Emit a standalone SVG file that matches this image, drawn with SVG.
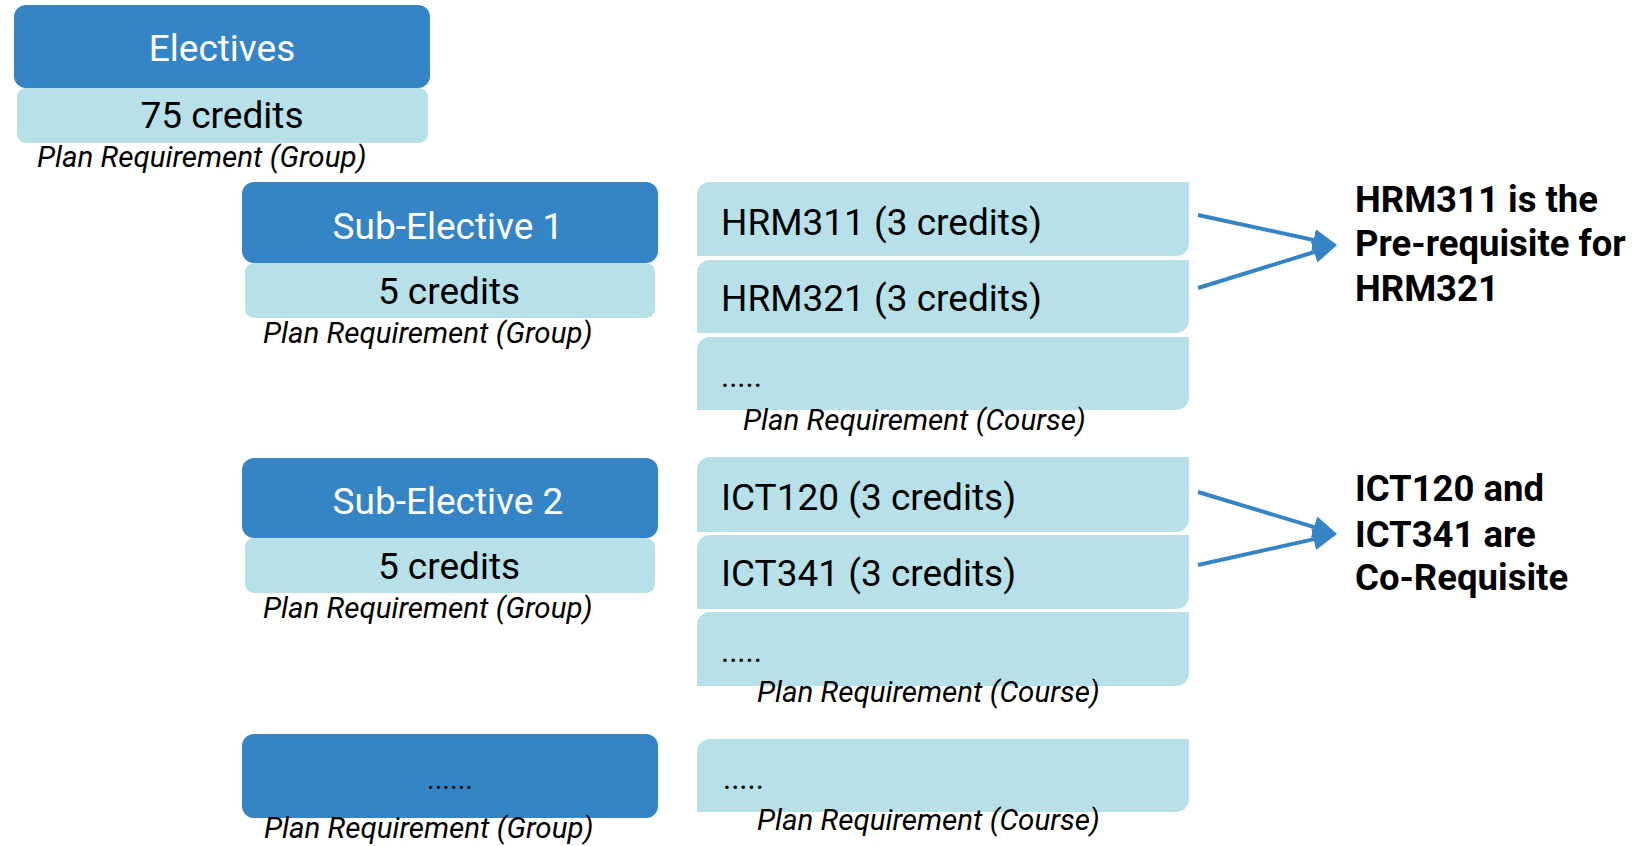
<svg xmlns="http://www.w3.org/2000/svg" width="1645" height="846" viewBox="0 0 1645 846">
<style>
.blue{fill:#3585C6}
.light{fill:#B7E0E8}
.t{font-family:Roboto,"Liberation Sans",sans-serif;font-size:37px;fill:#000}
.w{fill:#fff}
.c{text-anchor:middle}
.it{font-family:Roboto,"Liberation Sans",sans-serif;font-style:italic;font-size:29.5px;fill:#000}
.b{font-family:Roboto,"Liberation Sans",sans-serif;font-weight:bold;font-size:36.5px;fill:#000}
.dots{font-family:Roboto,"Liberation Sans",sans-serif;font-size:31px;fill:#000}
.conn{stroke:#3585C6;stroke-width:4;fill:none;marker-end:url(#ah)}
</style>
<defs>
<marker id="ah" markerUnits="userSpaceOnUse" viewBox="0 0 24 22" markerWidth="24" markerHeight="22" refX="20" refY="11" orient="auto">
<path d="M0,0 L24,11 L0,22 Z" fill="#3585C6"/>
</marker>
</defs>
<rect width="1645" height="846" fill="#fff"/>

<g id="electives">
<rect class="blue" x="14" y="5" width="416" height="83" rx="12"/>
<rect class="light" x="17" y="88" width="411" height="55" rx="9"/>
<text class="t w c" x="222" y="61">Electives</text>
<text class="t c" x="222" y="128">75 credits</text>
<text class="it" x="37" y="167">Plan Requirement (Group)</text>
</g>

<g id="sub-elective-1">
<rect class="blue" x="242" y="182" width="416" height="81" rx="12"/>
<rect class="light" x="245" y="263" width="410" height="55" rx="9"/>
<text class="t w c" x="448" y="239">Sub-Elective 1</text>
<text class="t c" x="449" y="304">5 credits</text>
<text class="it" x="263" y="343">Plan Requirement (Group)</text>
</g>

<g id="courses-1">
<path class="light" d="M697,195 A13,13 0 0 1 710,182 H1189 V243 A13,13 0 0 1 1176,256 H697 Z"/>
<path class="light" d="M697,273 A13,13 0 0 1 710,260 H1189 V320 A13,13 0 0 1 1176,333 H697 Z"/>
<path class="light" d="M697,350 A13,13 0 0 1 710,337 H1189 V397 A13,13 0 0 1 1176,410 H697 Z"/>
<text class="t" x="721" y="235">HRM311 (3 credits)</text>
<text class="t" x="721" y="311">HRM321 (3 credits)</text>
<text class="dots" x="721" y="387">.....</text>
<text class="it" x="743" y="430">Plan Requirement (Course)</text>
</g>

<g id="note-1">
<text class="b" x="1355" y="212">HRM311 is the</text>
<text class="b" x="1355" y="256">Pre-requisite for</text>
<text class="b" x="1355" y="301">HRM321</text>
</g>

<g id="sub-elective-2">
<rect class="blue" x="242" y="458" width="416" height="80" rx="12"/>
<rect class="light" x="245" y="538" width="410" height="55" rx="9"/>
<text class="t w c" x="448" y="514">Sub-Elective 2</text>
<text class="t c" x="449" y="579">5 credits</text>
<text class="it" x="263" y="618">Plan Requirement (Group)</text>
</g>

<g id="courses-2">
<path class="light" d="M697,470 A13,13 0 0 1 710,457 H1189 V519 A13,13 0 0 1 1176,532 H697 Z"/>
<path class="light" d="M697,548 A13,13 0 0 1 710,535 H1189 V596 A13,13 0 0 1 1176,609 H697 Z"/>
<path class="light" d="M697,625 A13,13 0 0 1 710,612 H1189 V673 A13,13 0 0 1 1176,686 H697 Z"/>
<text class="t" x="721" y="510">ICT120 (3 credits)</text>
<text class="t" x="721" y="586">ICT341 (3 credits)</text>
<text class="dots" x="721" y="662">.....</text>
<text class="it" x="757" y="702">Plan Requirement (Course)</text>
</g>

<g id="note-2">
<text class="b" x="1355" y="501">ICT120 and</text>
<text class="b" x="1355" y="547">ICT341 are</text>
<text class="b" x="1355" y="590">Co-Requisite</text>
</g>

<g id="sub-elective-more">
<rect class="blue" x="242" y="734" width="416" height="84" rx="12"/>
<text class="dots w c" x="450" y="789" style="font-size:29px">......</text>
<text class="it" x="264" y="838">Plan Requirement (Group)</text>
</g>

<g id="courses-more">
<path class="light" d="M697,752 A13,13 0 0 1 710,739 H1189 V799 A13,13 0 0 1 1176,812 H697 Z"/>
<text class="dots" x="723" y="789">.....</text>
<text class="it" x="757" y="830">Plan Requirement (Course)</text>
</g>

<g id="connectors">
<line class="conn" x1="1198" y1="215" x2="1333.1" y2="244.2"/>
<line class="conn" x1="1198" y1="288" x2="1333.2" y2="246.2"/>
<line class="conn" x1="1198" y1="492" x2="1333.2" y2="532.8"/>
<line class="conn" x1="1198" y1="565" x2="1333.1" y2="534.9"/>
</g>
</svg>
